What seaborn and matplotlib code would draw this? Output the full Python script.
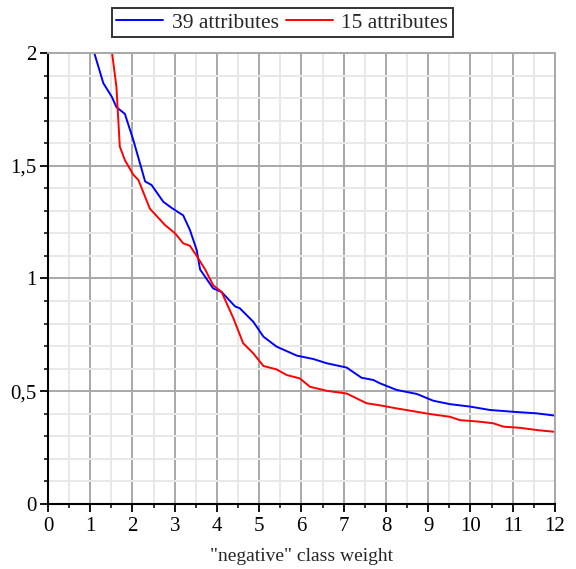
import pandas as pd
import seaborn as sns
import matplotlib.pyplot as plt
from matplotlib.ticker import MultipleLocator

sns.set_style('white')
plt.rcParams['font.family'] = ['Liberation Serif', 'DejaVu Serif']

# values
x_39 = [1.08, 1.31, 1.51, 1.62, 1.82, 2.02, 2.30, 2.45, 2.73, 2.95, 3.20, 3.36,
        3.52, 3.60, 3.91, 4.11, 4.43, 4.54, 4.86, 5.10, 5.41, 5.89, 6.28, 6.60,
        7.07, 7.42, 7.70, 7.86, 8.25, 8.73, 9.12, 9.51, 9.99, 10.46, 11.01,
        11.57, 12.0]
y_39 = [2.01, 1.866, 1.806, 1.76, 1.73, 1.614, 1.43, 1.415, 1.34, 1.31, 1.28,
        1.215, 1.126, 1.04, 0.956, 0.94, 0.876, 0.868, 0.808, 0.742, 0.698,
        0.658, 0.643, 0.624, 0.605, 0.56, 0.55, 0.535, 0.506, 0.488, 0.458,
        0.443, 0.432, 0.417, 0.409, 0.402, 0.392]

x_15 = [1.51, 1.62, 1.70, 1.82, 2.02, 2.14, 2.41, 2.77, 3.01, 3.20, 3.36, 3.52,
        3.72, 3.91, 4.11, 4.39, 4.62, 4.86, 5.10, 5.41, 5.65, 5.96, 6.20, 6.60,
        7.07, 7.54, 7.94, 8.25, 8.57, 9.04, 9.51, 9.75, 10.22, 10.54, 10.78,
        11.17, 11.57, 12.0]
y_15 = [2.01, 1.85, 1.585, 1.525, 1.46, 1.437, 1.31, 1.237, 1.20, 1.156, 1.145,
        1.10, 1.04, 0.97, 0.94, 0.823, 0.713, 0.668, 0.612, 0.597, 0.572, 0.557,
        0.52, 0.502, 0.49, 0.447, 0.435, 0.424, 0.414, 0.399, 0.387, 0.372,
        0.365, 0.358, 0.343, 0.338, 0.328, 0.32]

series_names = ['39 attributes', '15 attributes']
series_colors = ['#0000ff', '#ff0000']
x_ticks = list(range(13))
y_ticks = [0, 0.5, 1, 1.5, 2]
y_tick_labels = ['0', '0,5', '1', '1,5', '2']

df = pd.concat([
    pd.DataFrame({'x': x_39, 'y': y_39, 'set': series_names[0]}),
    pd.DataFrame({'x': x_15, 'y': y_15, 'set': series_names[1]}),
])

fig = plt.figure(figsize=(5.76, 5.69), dpi=100)
ax = fig.add_axes([0.0833, 0.1142, 0.8802, 0.7927])

sns.lineplot(data=df, x='x', y='y', hue='set', palette=series_colors,
             sort=False, estimator=None, linewidth=1.4, ax=ax)

ax.set_xlim(0, 12)
ax.set_ylim(0, 2)
ax.set_xticks(x_ticks)
ax.set_xticklabels([str(t) for t in x_ticks])
ax.set_yticks(y_ticks)
ax.set_yticklabels(y_tick_labels)
ax.xaxis.set_minor_locator(MultipleLocator(0.5))
ax.yaxis.set_minor_locator(MultipleLocator(0.1))

ax.grid(which='major', color='#a8a8a8', linewidth=1.4)
ax.grid(which='minor', color='#e8e8e8', linewidth=1.4)
ax.set_axisbelow(True)

for side in ['left', 'bottom']:
    ax.spines[side].set_color('black')
    ax.spines[side].set_linewidth(1.5)
for side in ['top', 'right']:
    ax.spines[side].set_color('#a8a8a8')
    ax.spines[side].set_linewidth(1.4)

ax.tick_params(which='major', direction='out', length=6, width=1.3,
               labelsize=15, colors='black', left=True, bottom=True)
ax.tick_params(which='minor', direction='out', length=3, width=1.3,
               left=True, bottom=True)
ax.tick_params(axis='x', pad=3)
ax.tick_params(axis='y', pad=2)

ax.set_xlabel('"negative" class weight', fontsize=14, labelpad=9)
ax.set_ylabel('')

handles, labels = ax.get_legend_handles_labels()
leg = ax.legend(handles, labels, loc='center', bbox_to_anchor=(0.462, 1.067),
                ncol=2, fontsize=15.5, frameon=True, fancybox=False,
                edgecolor='black', handlelength=2.2, handletextpad=0.4,
                columnspacing=0.3, borderpad=0.2, borderaxespad=0)
leg.get_frame().set_linewidth(1.4)

plt.savefig('out.png', dpi=100)
